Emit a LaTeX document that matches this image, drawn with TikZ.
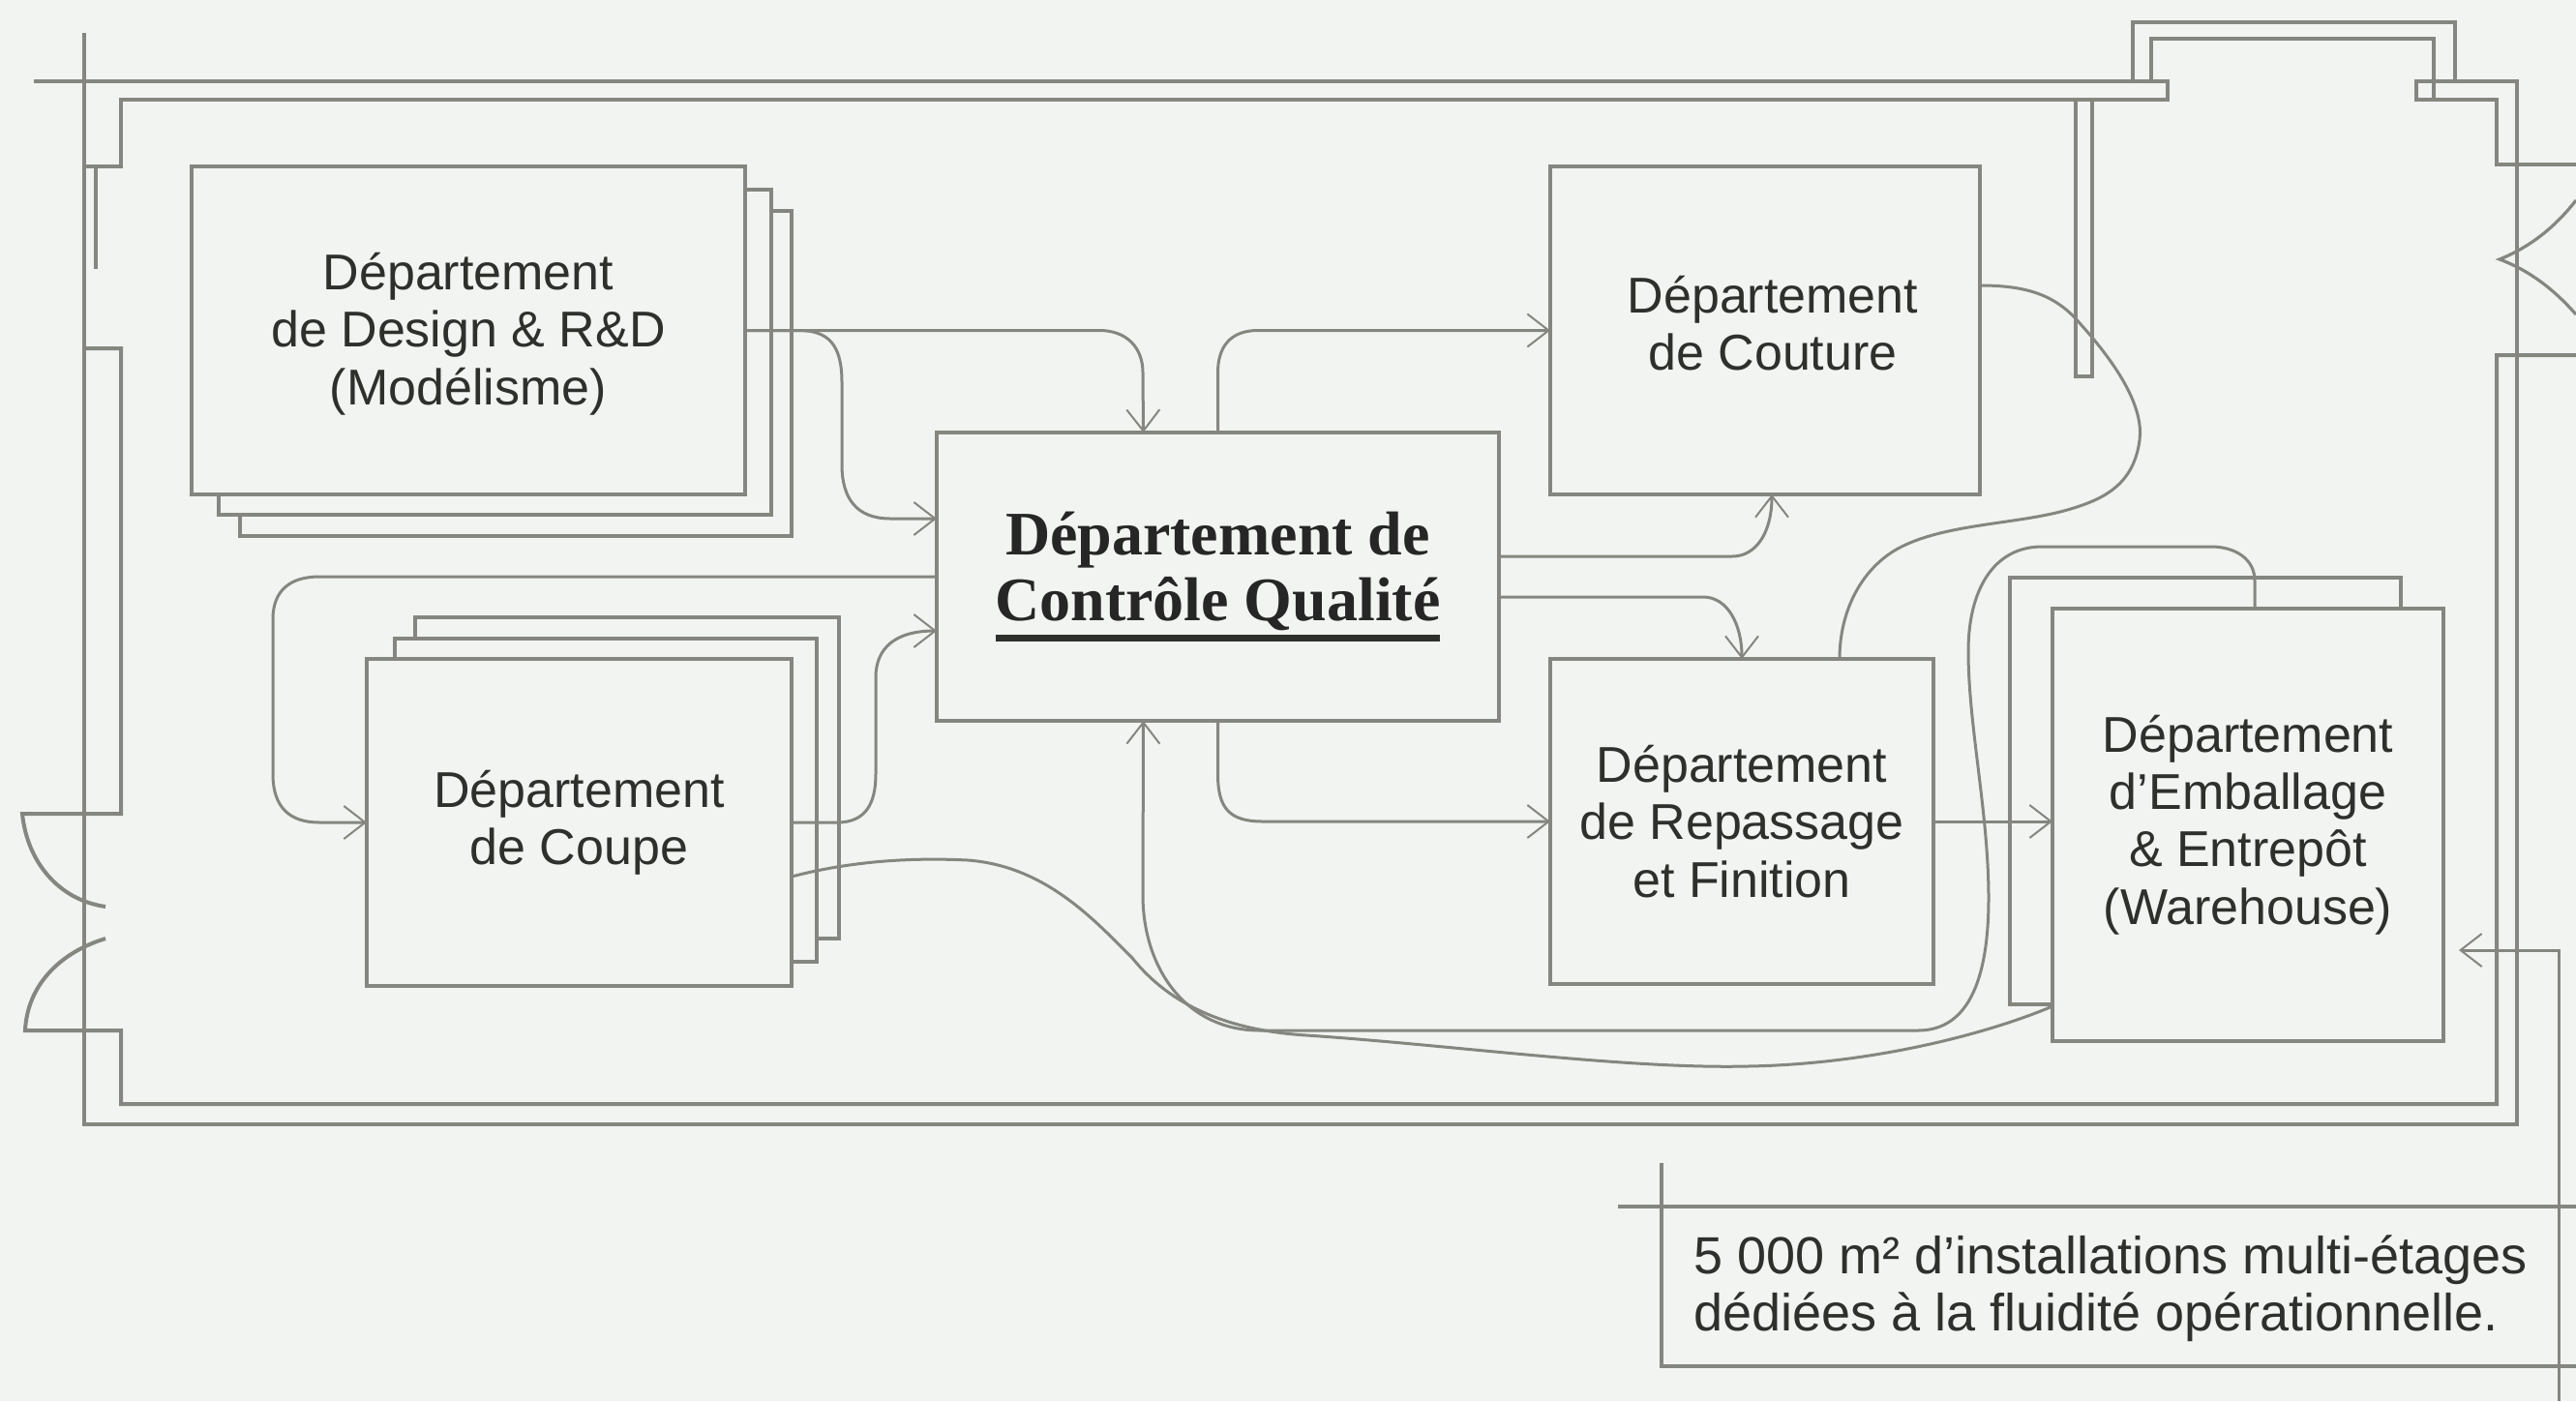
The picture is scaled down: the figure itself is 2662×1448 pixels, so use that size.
\documentclass[tikz,border=0pt]{standalone}
\usepackage{fontspec}
\setmainfont{Liberation Sans}
\newfontfamily\cqfont{Liberation Serif}
\usetikzlibrary{arrows.meta}
\definecolor{bgc}{HTML}{F1F4F0}
\definecolor{linec}{HTML}{85867F}
\definecolor{txtc}{HTML}{2E302C}
\tikzset{
  wall/.style={draw=linec,line width=2pt,line join=miter},
  thin wall/.style={draw=linec,line width=1.6pt},
  dept/.style={draw=linec,line width=2pt,fill=bgc,rectangle,outer sep=0pt,inner sep=0pt,
    text=txtc,align=center,font=\fontsize{26}{29.7}\selectfont},
  conn/.style={draw=linec,line width=1.5pt},
  flow/.style={conn,-{Straight Barb[length=11pt,width=17pt,line width=1pt]}},
  legendtxt/.style={text=txtc,align=left,anchor=north west,inner sep=0pt,font=\fontsize{27}{29.7}\selectfont}
}
\begin{document}
\begin{tikzpicture}[x=0.5pt,y=-0.5pt]
\fill[bgc] (0,0) rectangle (2662,1448);
\useasboundingbox (0,0) rectangle (2662,1448);
% building walls
\draw[wall] (87,34) -- (87,1162) -- (2601,1162) -- (2601,84) -- (2497,84) -- (2497,103) -- (2580,103) -- (2580,170) -- (2662,170);
\draw[wall] (35,84) -- (2240,84) -- (2240,103) -- (125,103) -- (125,172) -- (87,172);
\draw[wall] (99,172) -- (99,278);
\draw[wall] (87,360) -- (125,360) -- (125,841) -- (23,841) .. controls (28,890) and (60,930) .. (109,937);
\draw[wall] (109,970) .. controls (60,985) and (28,1020) .. (26,1065) -- (125,1065) -- (125,1141) -- (2580,1141) -- (2580,367) -- (2662,367);
\draw[wall] (2204,84) -- (2204,23) -- (2537,23) -- (2537,84);
\draw[wall] (2223,84) -- (2223,40) -- (2515,40) -- (2515,103);
\draw[wall] (2145,103) -- (2145,389) -- (2162,389) -- (2162,103);
\draw[thin wall] (2662,207) .. controls (2640,235) and (2615,255) .. (2583,268) .. controls (2615,280) and (2640,300) .. (2662,325);
% stacked departments
\node[dept,minimum width=285pt,minimum height=168pt] (design3) at (533,386) {};
\node[dept,minimum width=285.5pt,minimum height=168pt] (design2) at (511.5,364) {};
\node[dept,minimum width=286pt,minimum height=169.5pt] (design) at (484,341.5) {\rule{0pt}{22.5pt}Département\\de Design \& R\&D\\(Modélisme)};
\node[dept,minimum width=219pt,minimum height=166pt] (coupe3) at (648,804) {};
\node[dept,minimum width=218pt,minimum height=167pt] (coupe2) at (626,827) {};
\node[dept,minimum width=219.5pt,minimum height=169pt] (coupe) at (598.5,850) {Département\\de Coupe};
\node[dept,minimum width=290.5pt,minimum height=149pt,font=\cqfont\bfseries\fontsize{32}{34}\selectfont,text=black!85] (cq) at (1258.5,596) {Département de\\Contrôle Qualité\\[-23pt]\textcolor{txtc}{\rule{229.5pt}{3.5pt}}};
\node[dept,minimum width=222pt,minimum height=169.5pt] (couture) at (1824,341.5) {\hspace*{8pt}Département\\\hspace*{8pt}de Couture\\[-22pt]\mbox{}};
\node[dept,minimum width=198pt,minimum height=168pt] (repassage) at (1800,849) {Département\\de Repassage\\et Finition};
\node[dept,minimum width=202pt,minimum height=220.5pt] (emb2) at (2279,817.5) {};
\node[dept,minimum width=202pt,minimum height=223.5pt] (emb) at (2323,852.5) {Département\\d'Emballage\\\& Entrepôt\\(Warehouse)};
% connectors
\draw[flow] (design.east) -- (1136,341.5) .. controls (1165,341.5) and (1181,360) .. (1181,385) -- ([xshift=-38.5pt]cq.north);
\draw[flow] (design.east) -- (825,341.5) .. controls (855,341.5) and (870,355) .. (870,395) -- (870,480) .. controls (870,515) and (885,536) .. (920,536) -- (cq.west |- 0,536);
\draw[flow] (cq.north) -- (1258.5,385) .. controls (1258.5,360) and (1270,341.5) .. (1300,341.5) -- (couture.west);
\draw[flow] (cq.west |- 0,596) -- (330,596) .. controls (300,596) and (282,610) .. (282,640) -- (282,800) .. controls (282,835) and (300,850) .. (330,850) -- (coupe.west);
\draw[flow] (coupe.east) -- (865,850) .. controls (895,850) and (905,830) .. (905,800) -- (905,700) .. controls (905,670) and (925,652) .. (cq.west |- 0,652);
\draw[flow] (cq.east |- 0,575) -- (1790,575) .. controls (1815,575) and (1831,550) .. (1831,511);
\draw[flow] (cq.east |- 0,617) -- (1760,617) .. controls (1785,617) and (1800,645) .. (repassage.north);
\draw[flow] (cq.south) -- (1258.5,800) .. controls (1258.5,835) and (1270,849) .. (1305,849) -- (repassage.west);
\draw[flow] (repassage.east) -- (repassage.east -| emb.west);
\draw[conn] (couture.east |- 0,295) .. controls (2095,295) and (2125,305) .. (2150,335) .. controls (2195,385) and (2215,425) .. (2211,455) .. controls (2205,500) and (2175,515) .. (2143,525) .. controls (2090,542) and (2015,540) .. (1965,565) .. controls (1925,585) and (1901,630) .. (repassage.north -| 1901,0);
\draw[flow] ([xshift=3.5pt]emb.north) -- (2330,600) .. controls (2330,578) and (2310,565) .. (2285,565) -- (2110,565) .. controls (2060,565) and (2034,610) .. (2034,673) .. controls (2034,750) and (2055,840) .. (2055,928) .. controls (2055,1020) and (2030,1065) .. (1982,1065) -- (1302,1065) .. controls (1225,1065) and (1181,1000) .. (1181,925) -- ([xshift=-38.5pt]cq.south);
\draw[conn] (coupe.east |- 0,906) .. controls (860,895) and (920,885) .. (1000,889) .. controls (1080,895) and (1130,950) .. (1170,990) .. controls (1210,1040) and (1270,1065) .. (1350,1070) .. controls (1500,1080) and (1680,1105) .. (1806,1102) .. controls (1930,1100) and (2050,1070) .. (emb.west |- 0,1040);
% legend
\coordinate (legendstart) at (2644,1448);
\draw[flow] (legendstart) -- (2644,982) -- (2541,982);
\draw[wall] (1672,1247) -- (2662,1247);
\draw[wall] (1717,1202) -- (1717,1412) -- (2662,1412);
\node[legendtxt] (legend) at (1750,1276) {5 000 m² d'installations multi-étages\\dédiées à la fluidité opérationnelle.};
\end{tikzpicture}
\end{document}
